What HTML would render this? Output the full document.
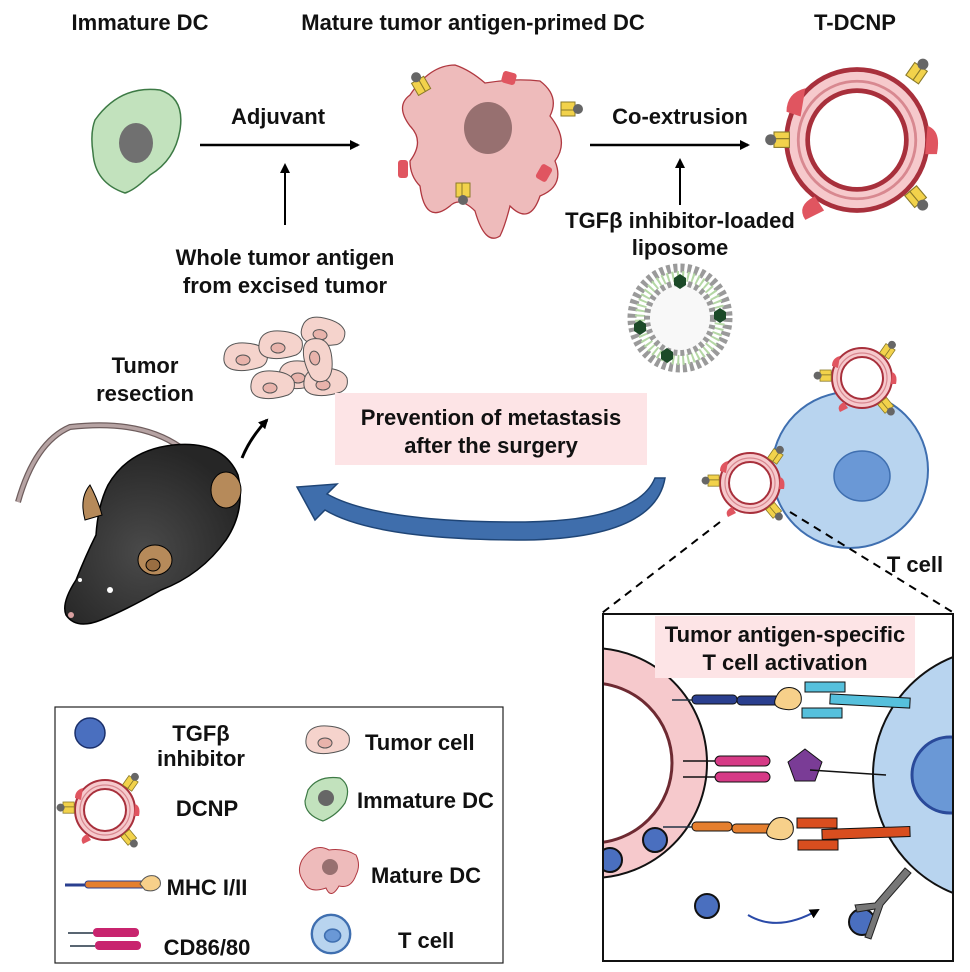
<!DOCTYPE html>
<html><head><meta charset="utf-8"><style>
html,body{margin:0;padding:0;background:#fff}
svg{display:block}
text{font-family:"Liberation Sans",Arial,sans-serif;font-weight:bold;fill:#111}
</style></head><body>
<svg width="970" height="972" viewBox="0 0 970 972" xmlns="http://www.w3.org/2000/svg">
<defs>
<marker id="ah" markerWidth="10" markerHeight="10" refX="8" refY="5" orient="auto" markerUnits="userSpaceOnUse"><path d="M0,0 L10,5 L0,10z" fill="#000"/></marker>
<radialGradient id="mg" cx="0.45" cy="0.6" r="0.6"><stop offset="0" stop-color="#4a4a4a"/><stop offset="1" stop-color="#262626"/></radialGradient>
<g id="ab"><rect x="-4" y="-10" width="8" height="14" fill="#f2d24b" stroke="#8a7a2a" stroke-width="1"/><rect x="4" y="-10" width="6" height="14" fill="#f2d24b" stroke="#8a7a2a" stroke-width="1"/><circle cx="3" cy="-13" r="5" fill="#666"/></g>
<g id="ring">
<circle r="30" fill="#f6c9cc" stroke="#a8303c" stroke-width="2"/>
<circle r="25" fill="none" stroke="#d88890" stroke-width="1.2"/>
<circle r="21" fill="#fff" stroke="#a8303c" stroke-width="2"/>
<path d="M-22,-22 q-8,2 -8,10 l6,2z" fill="#e05560"/>
<path d="M30,-6 q6,2 4,12 l-5,0z" fill="#e05560"/>
<path d="M-18,24 q-8,4 -4,10 l8,-4z" fill="#e05560"/>
</g>
<g id="dcnp">
<use href="#ring"/>
<use href="#ab" transform="translate(22,-26) rotate(35) scale(0.8)"/>
<use href="#ab" transform="translate(-34,0) rotate(-90) scale(0.8)"/>
<use href="#ab" transform="translate(24,24) rotate(140) scale(0.8)"/>
</g>
<g id="tcell"><circle r="12" fill="#b8d4ef" stroke="#3f6fb0" stroke-width="1.5"/><ellipse cx="1" cy="1" rx="5" ry="4" fill="#6a98d6" stroke="#3f6fb0"/></g>
<g id="tumor"><path d="M-20,-8 q4,-10 20,-9 q18,1 22,10 q2,10 -6,14 q-18,6 -30,2 q-10,-4 -6,-17z" fill="#f5d3cc" stroke="#555" stroke-width="1"/><ellipse cx="-2" cy="0" rx="7" ry="5" fill="#e8b3ab" stroke="#555" stroke-width="1"/></g>
<clipPath id="inset"><rect x="603" y="614" width="350" height="347"/></clipPath>
</defs>

<g font-size="22">
<text x="140" y="30" text-anchor="middle">Immature DC</text>
<text x="473" y="30" text-anchor="middle">Mature tumor antigen-primed DC</text>
<text x="855" y="30" text-anchor="middle">T-DCNP</text>
<text x="278" y="124" text-anchor="middle">Adjuvant</text>
<text x="285" y="265" text-anchor="middle">Whole tumor antigen</text>
<text x="285" y="293" text-anchor="middle">from excised tumor</text>
<text x="680" y="124" text-anchor="middle">Co-extrusion</text>
<text x="680" y="228" text-anchor="middle">TGFβ inhibitor-loaded</text>
<text x="680" y="255" text-anchor="middle">liposome</text>
<text x="145" y="373" text-anchor="middle">Tumor</text>
<text x="145" y="401" text-anchor="middle">resection</text>
<text x="915" y="572" text-anchor="middle">T cell</text>
</g>

<!-- immature DC -->
<path d="M95,120 q25,-35 65,-30 q25,8 20,40 q-5,30 -30,45 q-15,15 -25,18 q-30,-10 -32,-40 q-3,-20 2,-33z" fill="#c2e2bd" stroke="#3d7a45" stroke-width="1.5"/>
<ellipse cx="136" cy="143" rx="17" ry="20" fill="#707070"/>

<line x1="200" y1="145" x2="358" y2="145" stroke="#000" stroke-width="2.5" marker-end="url(#ah)"/>
<line x1="285" y1="225" x2="285" y2="165" stroke="#000" stroke-width="2" marker-end="url(#ah)"/>

<!-- mature DC -->
<path d="M410,95 q20,-30 45,-30 q15,5 30,18 q30,-5 55,-2 q20,15 10,35 q20,25 5,45 q10,25 -15,35 q-10,30 -30,10 q-5,20 -10,30 q-15,10 -25,-25 q-15,-15 -25,-5 q-25,20 -30,-20 q-10,-10 -10,-25 q15,-20 0,-35 q-15,-20 0,-31z" fill="#eebbbb" stroke="#b03840" stroke-width="1.3"/>
<ellipse cx="488" cy="128" rx="24" ry="26" fill="#977070"/>
<rect x="502" y="72" width="14" height="12" rx="3" fill="#e05560" transform="rotate(15 509 78)"/>
<rect x="398" y="160" width="10" height="18" rx="3" fill="#e05560"/>
<rect x="538" y="165" width="12" height="16" rx="3" fill="#e05560" transform="rotate(30 544 173)"/>
<use href="#ab" transform="translate(420,90) rotate(-30)"/>
<use href="#ab" transform="translate(565,106) rotate(90)"/>
<use href="#ab" transform="translate(466,187) rotate(180)"/>

<line x1="590" y1="145" x2="748" y2="145" stroke="#000" stroke-width="2.5" marker-end="url(#ah)"/>
<line x1="680" y1="205" x2="680" y2="160" stroke="#000" stroke-width="2" marker-end="url(#ah)"/>

<!-- T-DCNP big -->
<g transform="translate(857,140) scale(2.35)"><use href="#ring"/></g>
<use href="#ab" transform="translate(912,74) rotate(35) scale(1.1)"/>
<use href="#ab" transform="translate(785,143) rotate(-90) scale(1.1)"/>
<use href="#ab" transform="translate(916,192) rotate(140) scale(1.1)"/>

<!-- liposome -->
<g>
<ellipse cx="680" cy="318" rx="48" ry="50" fill="none" stroke="#9a9a9a" stroke-width="9" stroke-dasharray="4 3"/>
<ellipse cx="680" cy="318" rx="40" ry="42" fill="none" stroke="#b5d8a5" stroke-width="10" stroke-dasharray="2 3"/>
<ellipse cx="680" cy="318" rx="33" ry="35" fill="#f8f8f8" stroke="#9a9a9a" stroke-width="6" stroke-dasharray="4 3"/>
<polygon points="680,274 686,278 686,285 680,289 674,285 674,278" fill="#1c4a28"/>
<polygon points="720,308 726,312 726,319 720,323 714,319 714,312" fill="#1c4a28"/>
<polygon points="640,320 646,324 646,331 640,335 634,331 634,324" fill="#1c4a28"/>
<polygon points="667,348 673,352 673,359 667,363 661,359 661,352" fill="#1c4a28"/>
</g>

<!-- tumor cells -->
<g transform="translate(245,360)"><use href="#tumor"/></g>
<g transform="translate(280,348)"><use href="#tumor"/></g>
<g transform="translate(322,335) rotate(10)"><use href="#tumor"/></g>
<g transform="translate(300,378)"><use href="#tumor"/></g>
<g transform="translate(272,388)"><use href="#tumor"/></g>
<g transform="translate(325,385)"><use href="#tumor"/></g>
<g transform="translate(315,360) rotate(80)"><use href="#tumor"/></g>

<rect x="335" y="393" width="312" height="72" fill="#fde4e6"/>
<text x="491" y="425" font-size="22" text-anchor="middle">Prevention of metastasis</text>
<text x="491" y="453" font-size="22" text-anchor="middle">after the surgery</text>

<!-- mouse -->
<path d="M180,447 q-40,-28 -110,-20 q-35,15 -52,75" fill="none" stroke="#6e5d5d" stroke-width="6"/>
<path d="M180,447 q-40,-28 -110,-20 q-35,15 -52,75" fill="none" stroke="#b6a3a3" stroke-width="3.5"/>
<path d="M108,485 q20,-35 65,-40 q50,-5 65,30 q8,35 -12,65 q-25,35 -65,50 q-35,20 -60,30 q-25,10 -35,-5 q-5,-12 10,-35 q10,-25 20,-45 q2,-30 12,-50z" fill="url(#mg)" stroke="#000" stroke-width="1.5"/>
<ellipse cx="226" cy="490" rx="15" ry="18" fill="#b68a5a" stroke="#000"/>
<path d="M85,520 q-6,-22 5,-35 q8,15 12,30z" fill="#b68a5a" stroke="#000"/>
<ellipse cx="155" cy="560" rx="17" ry="15" fill="#b68a5a" stroke="#000"/>
<ellipse cx="153" cy="565" rx="7" ry="6" fill="#9a6e42" stroke="#000"/>
<circle cx="110" cy="590" r="3" fill="#fff"/>
<circle cx="80" cy="580" r="2" fill="#fff"/>
<circle cx="71" cy="615" r="3" fill="#d9a0a0"/>
<path d="M242,458 q8,-20 25,-38" fill="none" stroke="#000" stroke-width="3" marker-end="url(#ah)"/>

<!-- blue curved arrow -->
<path d="M665,478 q-10,60 -140,62 q-150,0 -200,-30 l-10,10 l-18,-33 l40,-3 l-10,10 q50,28 190,28 q120,0 138,-44z" fill="#3f6eac" stroke="#1f4576" stroke-width="1.5"/>

<!-- T cell with DCNPs -->
<circle cx="850" cy="470" r="78" fill="#b8d4ef" stroke="#3f6fb0" stroke-width="2"/>
<ellipse cx="862" cy="476" rx="28" ry="25" fill="#6a98d6" stroke="#3f6fb0" stroke-width="1.5"/>
<g transform="translate(862,378)"><use href="#dcnp"/></g>
<g transform="translate(750,483)"><use href="#dcnp"/></g>
<line x1="720" y1="522" x2="602" y2="613" stroke="#000" stroke-width="2" stroke-dasharray="8 6"/>
<line x1="790" y1="512" x2="954" y2="613" stroke="#000" stroke-width="2" stroke-dasharray="8 6"/>

<!-- inset -->
<g clip-path="url(#inset)">
<circle cx="592" cy="763" r="115" fill="#f6c9cc" stroke="#111" stroke-width="2"/>
<circle cx="592" cy="763" r="80" fill="#fff" stroke="#6e2a32" stroke-width="3"/>
<circle cx="655" cy="840" r="12" fill="#4a6fbf" stroke="#111" stroke-width="2"/>
<circle cx="610" cy="860" r="12" fill="#4a6fbf" stroke="#111" stroke-width="2"/>
<circle cx="1000" cy="775" r="127" fill="#b8d4ef" stroke="#111" stroke-width="2"/>
<circle cx="950" cy="775" r="38" fill="#6a98d6" stroke="#2a4a9a" stroke-width="3"/>
</g>
<rect x="603" y="614" width="350" height="347" fill="none" stroke="#111" stroke-width="2"/>
<rect x="655" y="616" width="260" height="62" fill="#fde4e6"/>
<text x="785" y="642" font-size="22" text-anchor="middle">Tumor antigen-specific</text>
<text x="785" y="670" font-size="22" text-anchor="middle">T cell activation</text>
<path d="M672,700 h20" stroke="#234" stroke-width="1.5"/>
<rect x="692" y="695" width="45" height="9" rx="4" fill="#2a3f8f" stroke="#111"/>
<rect x="737" y="696" width="45" height="9" rx="4" fill="#2a3f8f" stroke="#111"/>
<path d="M775,700 q5,-15 18,-12 q10,3 8,14 q-4,10 -18,7 q-10,-2 -8,-9z" fill="#f7d08a" stroke="#111"/>
<rect x="805" y="682" width="40" height="10" fill="#56c0dc" stroke="#111"/>
<rect x="802" y="708" width="40" height="10" fill="#56c0dc" stroke="#111"/>
<rect x="830" y="696" width="80" height="10" fill="#56c0dc" stroke="#111" transform="rotate(3 870 701)"/>
<line x1="683" y1="761" x2="715" y2="761" stroke="#111" stroke-width="1.5"/>
<line x1="683" y1="777" x2="715" y2="777" stroke="#111" stroke-width="1.5"/>
<rect x="715" y="756" width="55" height="10" rx="5" fill="#d63a86" stroke="#111"/>
<rect x="715" y="772" width="55" height="10" rx="5" fill="#d63a86" stroke="#111"/>
<polygon points="805,749 822,762 815,781 795,781 788,762" fill="#7a3c96" stroke="#111"/>
<line x1="810" y1="770" x2="886" y2="775" stroke="#111" stroke-width="1.5"/>
<line x1="663" y1="827" x2="692" y2="827" stroke="#234" stroke-width="1.5"/>
<rect x="692" y="822" width="40" height="9" rx="4" fill="#e57f2e" stroke="#111"/>
<rect x="732" y="824" width="45" height="9" rx="4" fill="#e57f2e" stroke="#111"/>
<path d="M767,830 q5,-15 18,-12 q10,3 8,14 q-4,10 -18,7 q-10,-2 -8,-9z" fill="#f7d08a" stroke="#111"/>
<rect x="797" y="818" width="40" height="10" fill="#d94e1f" stroke="#111"/>
<rect x="798" y="840" width="40" height="10" fill="#d94e1f" stroke="#111"/>
<rect x="822" y="828" width="88" height="10" fill="#d94e1f" stroke="#111" transform="rotate(-2 866 833)"/>
<circle cx="707" cy="906" r="12" fill="#4a6fbf" stroke="#111" stroke-width="2"/>
<path d="M748,915 q30,18 70,-5" fill="none" stroke="#2a4aa8" stroke-width="2" marker-end="url(#ah)"/>
<circle cx="862" cy="922" r="13" fill="#4a6fbf" stroke="#111" stroke-width="2"/>
<path d="M855,905 l20,-2 l30,-35 l6,5 l-28,32 l-12,34 l-6,-2 l10,-28 l-18,3z" fill="#777" stroke="#222"/>

<!-- legend -->
<rect x="55" y="707" width="448" height="256" fill="#fff" stroke="#222" stroke-width="1.2"/>
<circle cx="90" cy="733" r="15" fill="#4a6fbf" stroke="#1a2f6a" stroke-width="1.5"/>
<g font-size="22">
<text x="201" y="711" dy="30" text-anchor="middle">TGFβ</text>
<text x="201" y="766" text-anchor="middle">inhibitor</text>
<text x="207" y="816" text-anchor="middle">DCNP</text>
<text x="207" y="895" text-anchor="middle">MHC I/II</text>
<text x="207" y="955" text-anchor="middle">CD86/80</text>
<text x="365" y="750">Tumor cell</text>
<text x="357" y="808">Immature DC</text>
<text x="371" y="883">Mature DC</text>
<text x="398" y="948">T cell</text>
</g>
<g transform="translate(105,810)"><use href="#dcnp"/></g>
<line x1="65" y1="885" x2="140" y2="885" stroke="#2a3f8f" stroke-width="3"/>
<rect x="85" y="881" width="60" height="7" rx="3" fill="#e57f2e" stroke="#2a3f8f"/>
<path d="M140,884 q5,-10 15,-8 q7,3 5,10 q-5,7 -15,4z" fill="#f7d08a" stroke="#555"/>
<line x1="68" y1="933" x2="95" y2="933" stroke="#234" stroke-width="1.5"/>
<line x1="70" y1="946" x2="95" y2="946" stroke="#234" stroke-width="1.5"/>
<rect x="93" y="928" width="46" height="9" rx="4" fill="#c8246e"/>
<rect x="95" y="941" width="46" height="9" rx="4" fill="#c8246e"/>
<g transform="translate(327,743)"><use href="#tumor"/></g>
<path d="M308,790 q10,-15 32,-12 q12,8 5,25 q-8,12 -22,18 q-18,-6 -18,-20z" fill="#c2e2bd" stroke="#3d7a45" stroke-width="1.2"/>
<circle cx="326" cy="798" r="8" fill="#666"/>
<path d="M302,860 q12,-18 27,-10 q15,-2 27,5 q5,10 0,20 q-5,14 -17,11 q-8,14 -13,2 q-17,6 -22,-6 q-8,-10 -2,-22z" fill="#eebbbb" stroke="#b03840"/>
<circle cx="330" cy="867" r="8" fill="#977070"/>
<g transform="translate(331,934) scale(1.6)"><use href="#tcell"/></g>
</svg>
</body></html>
